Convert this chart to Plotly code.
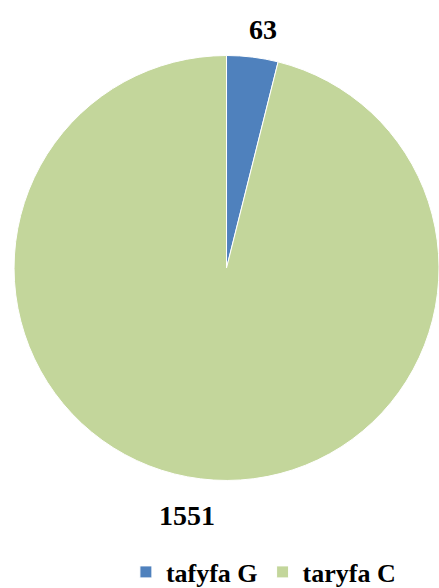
import plotly.graph_objects as go

categories = ["tafyfa G", "taryfa C"]
values = [63, 1551]
colors = ["#4F81BD", "#C3D69B"]

W, H = 439, 588
fig = go.Figure()
fig.add_trace(go.Pie(
    labels=categories,
    values=values,
    marker=dict(colors=colors, line=dict(color="white", width=1)),
    sort=False,
    direction="clockwise",
    rotation=0,
    textinfo="none",
    hoverinfo="label+value",
    domain=dict(x=[0.032, 1.0], y=[0.182, 0.9065]),
))

label_font = dict(family="Liberation Serif, Times New Roman, serif", size=28, color="black")
label_pos = [(263 / W, 1 - 30 / H), (187 / W, 1 - 515 / H)]
for v, (lx, ly) in zip(values, label_pos):
    fig.add_annotation(x=lx, y=ly, xref="paper", yref="paper", text=f"<b>{v}</b>",
                       showarrow=False, font=label_font, xanchor="center", yanchor="middle")

fig.update_layout(
    width=W, height=H,
    margin=dict(l=0, r=0, t=0, b=0, autoexpand=False),
    paper_bgcolor="white",
    plot_bgcolor="white",
    showlegend=True,
    legend=dict(
        orientation="h",
        x=0.6, xanchor="center",
        y=16 / H, yanchor="middle",
        font=dict(family="Liberation Serif, Times New Roman, serif", size=26, color="black", weight="bold"),
        itemwidth=30,
        traceorder="normal",
    ),
)
fig.write_html("out.html", config={"displayModeBar": False},
               post_script="document.body.style.margin='0';document.body.style.overflow='hidden';")
